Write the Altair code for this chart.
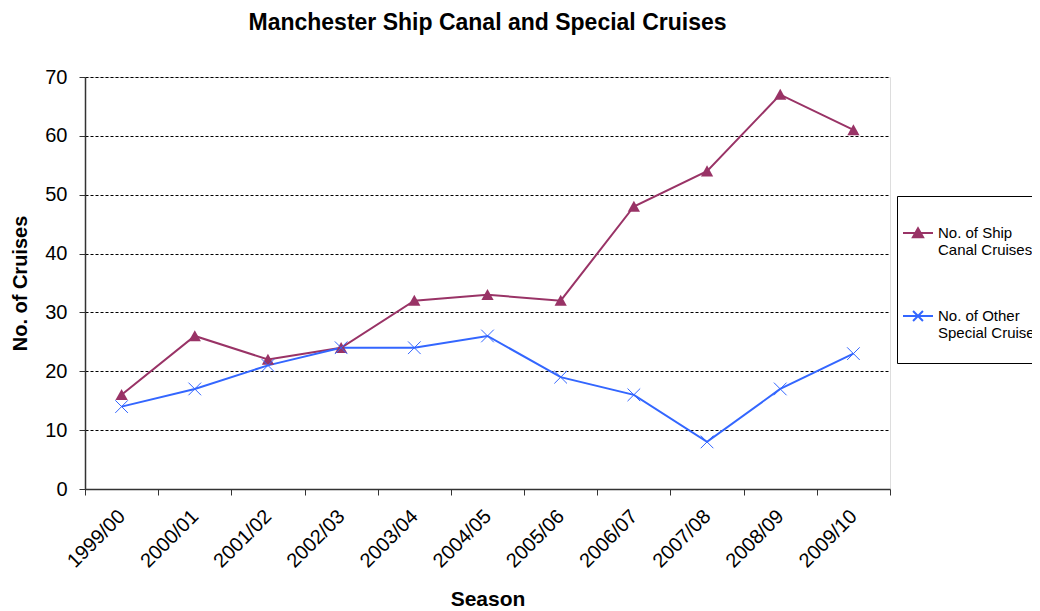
import altair as alt
import pandas as pd

seasons = ["1999/00", "2000/01", "2001/02", "2002/03", "2003/04", "2004/05",
           "2005/06", "2006/07", "2007/08", "2008/09", "2009/10"]
ship_canal = [16, 26, 22, 24, 32, 33, 32, 48, 54, 67, 61]
other_special = [14, 17, 21, 24, 24, 26, 19, 16, 8, 17, 23]
series_names = ["No. of Ship Canal Cruises", "No. of Other Special Cruises"]
legend_lines = [["No. of Ship", "Canal Cruises"], ["No. of Other", "Special Cruises"]]
series_colors = ["#993366", "#3366FF"]

rows = []
for s, a, b in zip(seasons, ship_canal, other_special):
    rows.append({"season": s, "series": series_names[0], "value": a})
    rows.append({"season": s, "series": series_names[1], "value": b})
df = pd.DataFrame(rows)

FONT = "Liberation Sans"
TRI = "M0,-0.95L1,0.85L-1,0.85Z"
XSHAPE = "M-1,-1L1,1M-1,1L1,-1"
TRI_LEG = "M-1,0L1,0M0,-0.32L0.34,0.28L-0.34,0.28Z"
X_LEG = "M-1,0L1,0M-0.33,-0.33L0.33,0.33M-0.33,0.33L0.33,-0.33"

x_enc = alt.X(
    "season:N",
    sort=seasons,
    scale=alt.Scale(type="band", domain=seasons, paddingInner=0, paddingOuter=0),
    bandPosition=0.5,
    axis=alt.Axis(
        title="Season", titleFont=FONT, titleFontSize=21, titleFontWeight="bold",
        titleColor="black", titlePadding=17,
        labelAngle=-45, labelAlign="right", labelBaseline="middle",
        labelFont=FONT, labelFontSize=20, labelColor="black", labelPadding=18,
        tickBand="extent", tickSize=6, tickColor="#333", domainColor="#333",
        domainWidth=1.5, grid=False, labelOverlap=False,
    ),
)
y_enc = alt.Y(
    "value:Q",
    scale=alt.Scale(domain=[0, 70], nice=False),
    axis=alt.Axis(
        title="No. of Cruises", titleFont=FONT, titleFontSize=20, titleFontWeight="bold",
        titleColor="black", titlePadding=14,
        values=[0, 10, 20, 30, 40, 50, 60, 70],
        labelFont=FONT, labelFontSize=20, labelColor="black", labelPadding=12,
        tickSize=6, tickColor="#333", domainColor="#333", domainWidth=1.5,
        grid=True, gridColor="black", gridDash=[3, 2], gridWidth=1,
    ),
)

base = alt.Chart(df)
is_ship = alt.datum.series == series_names[0]
is_other = alt.datum.series == series_names[1]

line_ship = base.transform_filter(is_ship).mark_line(
    strokeWidth=2, color=series_colors[0]).encode(x=x_enc, y=y_enc)
line_other = base.transform_filter(is_other).mark_line(
    strokeWidth=2, color=series_colors[1]).encode(x=x_enc, y=y_enc)
tri = base.transform_filter(is_ship).mark_point(
    shape=TRI, filled=True, size=150, opacity=1, color=series_colors[0]
).encode(x=x_enc, y=y_enc)
xs = base.transform_filter(is_other).mark_point(
    shape=XSHAPE, filled=False, size=160, strokeWidth=1, opacity=1, color=series_colors[1]
).encode(x=x_enc, y=y_enc)

label_expr = (
    f"datum.label == '{series_names[0]}' ? ['{legend_lines[0][0]}', '{legend_lines[0][1]}', '']"
    f" : ['{legend_lines[1][0]}', '{legend_lines[1][1]}', '']"
)
leg = alt.Legend(
    title=" ", titleFontSize=10, titlePadding=6,
    labelExpr=label_expr, orient="none", legendX=812, legendY=119,
    strokeColor="black", padding=5,
    labelFont=FONT, labelFontSize=15, labelColor="black",
    labelBaseline="middle", labelOffset=4, labelLimit=400,
    symbolSize=900, symbolStrokeWidth=2, rowPadding=25,
)
legend_layer = base.transform_filter("false").mark_point(
    filled=True, size=900, strokeWidth=2, opacity=1
).encode(
    x=x_enc, y=y_enc,
    fill=alt.Fill("series:N", scale=alt.Scale(domain=series_names, range=series_colors), legend=leg),
    stroke=alt.Stroke("series:N", scale=alt.Scale(domain=series_names, range=series_colors), legend=leg),
    shape=alt.Shape("series:N", scale=alt.Scale(domain=series_names, range=[TRI_LEG, X_LEG]), legend=leg),
)

chart = (
    alt.layer(line_ship, line_other, tri, xs, legend_layer)
    .properties(
        width=805, height=412,
        title=alt.TitleParams(
            "Manchester Ship Canal and Special Cruises",
            font=FONT, fontSize=23, fontWeight="bold", color="black",
            anchor="middle", offset=32,
        ),
        autosize=alt.AutoSizeParams(type="none"),
        padding={"left": 77, "top": 69, "right": 142, "bottom": 122},
    )
    .configure_view(stroke="#9a9a9a", strokeWidth=1)
    .configure(background="white")
)

chart.save("out.html", embed_options={"renderer": "svg", "actions": False})
